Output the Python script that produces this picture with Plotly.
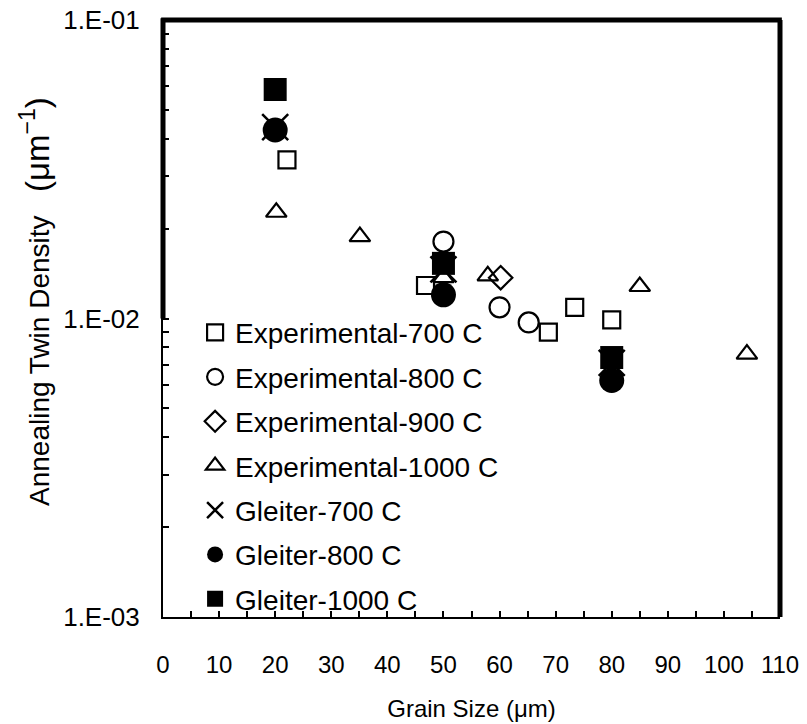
import plotly.graph_objects as go

# ---- data ----
exp700_x = [22.1, 46.8, 68.7, 73.4, 80.0]
exp700_y = [0.0340, 0.0129, 0.0090, 0.0109, 0.0099]
exp800_x = [50.0, 60.0, 65.2]
exp800_y = [0.0181, 0.0109, 0.0097]
exp900_x = [60.2]
exp900_y = [0.0137]
exp1000_x = [20.2, 35.1, 50.0, 57.9, 85.0, 104.1]
exp1000_y = [0.0227, 0.0188, 0.0137, 0.0139, 0.0128, 0.0076]
gl700_x = [20.0, 50.0, 80.0]
gl700_y = [0.0438, 0.0146, 0.0071]
gl800_x = [20.0, 50.0, 80.0]
gl800_y = [0.0428, 0.0120, 0.0062]
gl1000_x = [20.0, 50.0, 80.0]
gl1000_y = [0.0585, 0.0153, 0.0074]

x_ticks = list(range(0, 111, 5))
x_ticktext = [str(v) if v % 10 == 0 else "" for v in x_ticks]
y_ticks = [m * 10.0 ** e for e in (-3, -2) for m in range(1, 10)] + [0.1]
y_ticktext = []
for v in y_ticks:
    if abs(v - 0.001) < 1e-9:
        y_ticktext.append("1.E-03")
    elif abs(v - 0.01) < 1e-9:
        y_ticktext.append("1.E-02")
    elif abs(v - 0.1) < 1e-9:
        y_ticktext.append("1.E-01")
    else:
        y_ticktext.append("")

y_title = ("Annealing Twin Density\u00a0\u00a0\u00a0"
           "<span style=\"font-size:33px\">(μm<sup>−1</sup>)</span>")
x_title = "Grain Size (μm)"

FONT = "Liberation Sans, Arial, sans-serif"

fig = go.Figure()

def add(name, xs, ys, symbol, size, lw=2.2, color="black"):
    fig.add_trace(go.Scatter(
        x=xs, y=ys, mode="markers", name=name, legendgroup=name,
        marker=dict(symbol=symbol, size=size, color=color,
                    line=dict(width=lw, color="black")),
    ))

add("Experimental-700 C", exp700_x, exp700_y, "square-open", 17)
add("Experimental-800 C", exp800_x, exp800_y, "circle-open", 20)
add("Experimental-900 C", exp900_x, exp900_y, "diamond-open", 18)
add("Experimental-1000 C", exp1000_x, exp1000_y, "triangle-up-open", 18)
add("Gleiter-700 C", gl700_x, gl700_y, "x-thin", 26, lw=2.5)
add("Gleiter-800 C", gl800_x, gl800_y, "circle", 25, lw=0)
add("Gleiter-1000 C", gl1000_x, gl1000_y, "square", 23, lw=0)

fig.update_layout(
    width=807, height=724,
    margin=dict(l=163, r=27, t=20, b=107),
    paper_bgcolor="white", plot_bgcolor="white",
    font=dict(family=FONT, color="black"),
    showlegend=True,
    legend=dict(x=0.052, y=0.518, xanchor="left", yanchor="top",
                bgcolor="rgba(0,0,0,0)", font=dict(size=28, family=FONT),
                tracegroupgap=5, itemsizing="trace"),
    xaxis=dict(range=[0, 110], tickmode="array", tickvals=x_ticks, ticktext=x_ticktext,
               ticks="inside", ticklen=6, tickwidth=2, tickcolor="black",
               showline=True, linewidth=2, linecolor="black", mirror=False,
               showgrid=False, zeroline=False, automargin=False,
               tickfont=dict(size=24, family=FONT), ticklabelstandoff=25,
               title=dict(text=x_title, font=dict(size=24, family=FONT), standoff=23)),
    yaxis=dict(type="log", range=[-3, -1], tickmode="array", tickvals=y_ticks, ticktext=y_ticktext,
               ticks="inside", ticklen=6, tickwidth=2, tickcolor="black",
               showline=True, linewidth=2, linecolor="black", mirror=False,
               showgrid=False, zeroline=False, automargin=False,
               tickfont=dict(size=26, family=FONT), ticklabelstandoff=16),
    annotations=[
        dict(text=y_title, xref="paper", yref="paper", x=(35 - 163) / 617, y=1 - (302 - 20) / 597,
             xanchor="center", yanchor="middle", textangle=-90, showarrow=False,
             font=dict(size=28, family=FONT, color="black")),
    ],
    shapes=[
        dict(type="line", xref="paper", yref="paper", x0=-0.003, x1=1.003, y0=1, y1=1,
             line=dict(color="black", width=5)),
        dict(type="line", xref="paper", yref="paper", x0=1, x1=1, y0=0, y1=1,
             line=dict(color="black", width=5)),
        dict(type="line", xref="paper", yref="paper", x0=0, x1=0, y0=0.5, y1=1.003,
             line=dict(color="black", width=5)),
    ],
)

fig.write_html("out.html", config={"displayModeBar": False},
               post_script="document.body.style.margin='0';document.body.style.overflow='hidden';")
